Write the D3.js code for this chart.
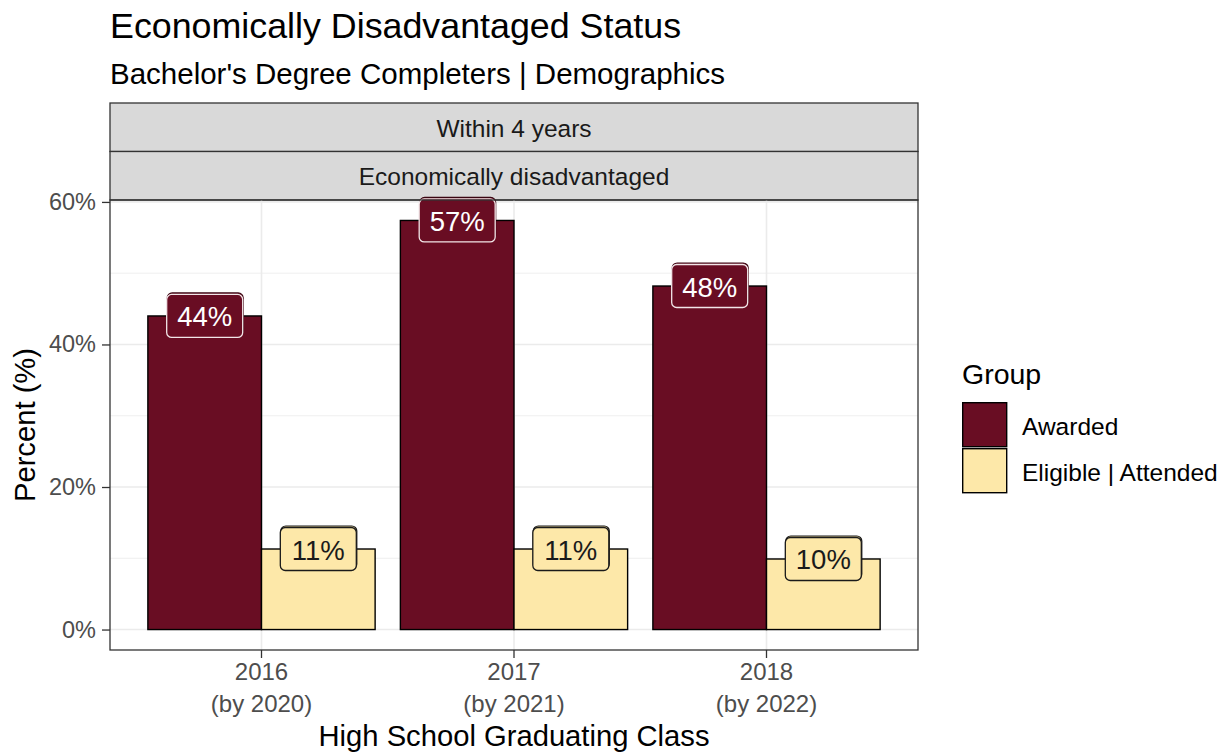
<!DOCTYPE html>
<html>
<head>
<meta charset="utf-8">
<script src="https://cdn.jsdelivr.net/npm/d3@7"></script>
<style>
  body { margin: 0; background: #fff; }
  svg text { font-family: "Liberation Sans", Arial, sans-serif; }
</style>
</head>
<body>
<div id="chart"></div>
<script>
// data
var classes = ["2016", "2017", "2018"]
var byYears = ["(by 2020)", "(by 2021)", "(by 2022)"]
var groups = ["Awarded", "Eligible | Attended"]
var awarded = [44.0, 57.4, 48.2]
var eligible = [11.3, 11.3, 9.9]
var yTicks = [0, 20, 40, 60]
var yMinor = [10, 30, 50]
var strips = ["Within 4 years", "Economically disadvantaged"]

var colors = {"Awarded": "#690d23", "Eligible | Attended": "#fde8a9"}
var textCol = {"Awarded": "#ffffff", "Eligible | Attended": "#1a1a1a"}
var lineCol = {"Awarded": "#f2e6e8", "Eligible | Attended": "#1a1a1a"}
var shadowCol = {"Awarded": "#3a0612", "Eligible | Attended": "#1a1a1a"}

var width = 1229, height = 753
var panel = {left: 110, right: 918, top: 200, bottom: 650}

var rows = []
classes.forEach(function(c, i) {
  rows.push({cls: c, group: groups[0], value: awarded[i]})
  rows.push({cls: c, group: groups[1], value: eligible[i]})
})

var svg = d3.select("#chart").append("svg")
  .attr("width", width)
  .attr("height", height)

var x = d3.scaleBand()
  .domain(classes)
  .range([panel.left, panel.right])
  .paddingInner(0.1)
  .paddingOuter(0.15)
var xg = d3.scaleBand()
  .domain(groups)
  .range([0, x.bandwidth()])
var y = d3.scaleLinear()
  .domain([-2.87, 60.27])
  .range([panel.bottom, panel.top])

// titles
svg.append("text").attr("x", 110).attr("y", 38)
  .attr("font-size", 35.8).attr("fill", "#000")
  .text("Economically Disadvantaged Status")
svg.append("text").attr("x", 110).attr("y", 84)
  .attr("font-size", 29.5).attr("fill", "#000")
  .text("Bachelor's Degree Completers | Demographics")

// strips
strips.forEach(function(s, i) {
  var top = 103 + i * 48.5
  svg.append("rect")
    .attr("x", panel.left).attr("y", top)
    .attr("width", panel.right - panel.left).attr("height", 48.5)
    .attr("fill", "#d9d9d9").attr("stroke", "#333333").attr("stroke-width", 1.3)
  svg.append("text")
    .attr("x", (panel.left + panel.right) / 2).attr("y", top + 25)
    .attr("text-anchor", "middle").attr("dominant-baseline", "central")
    .attr("font-size", 24.5).attr("fill", "#1a1a1a")
    .text(s)
})

// grid
var grid = svg.append("g")
grid.selectAll(".minor").data(yMinor).enter().append("line")
  .attr("x1", panel.left).attr("x2", panel.right)
  .attr("y1", function(d) { return y(d) }).attr("y2", function(d) { return y(d) })
  .attr("stroke", "#ebebeb").attr("stroke-width", 0.8)
grid.selectAll(".major").data(yTicks).enter().append("line")
  .attr("x1", panel.left).attr("x2", panel.right)
  .attr("y1", function(d) { return y(d) }).attr("y2", function(d) { return y(d) })
  .attr("stroke", "#ebebeb").attr("stroke-width", 1.6)
grid.selectAll(".vert").data(classes).enter().append("line")
  .attr("y1", panel.top).attr("y2", panel.bottom)
  .attr("x1", function(d) { return x(d) + x.bandwidth() / 2 })
  .attr("x2", function(d) { return x(d) + x.bandwidth() / 2 })
  .attr("stroke", "#ebebeb").attr("stroke-width", 1.6)

// bars
svg.append("g").selectAll("rect").data(rows).enter().append("rect")
  .attr("x", function(d) { return x(d.cls) + xg(d.group) })
  .attr("width", xg.bandwidth())
  .attr("y", function(d) { return y(d.value) })
  .attr("height", function(d) { return y(0) - y(d.value) })
  .attr("fill", function(d) { return colors[d.group] })
  .attr("stroke", "#000").attr("stroke-width", 1.4)

// value labels (geom_label look, drawn twice like the original)
var lab = svg.append("g").selectAll("g").data(rows).enter().append("g")
  .attr("transform", function(d) {
    return "translate(" + (x(d.cls) + xg(d.group) + xg.bandwidth() / 2) + "," + y(d.value) + ")"
  })
lab.append("rect")
  .attr("x", -37.5).attr("y", -23).attr("width", 76).attr("height", 43)
  .attr("rx", 5)
  .attr("fill", function(d) { return colors[d.group] })
  .attr("stroke", function(d) { return shadowCol[d.group] }).attr("stroke-width", 1.2)
lab.append("rect")
  .attr("x", -38).attr("y", -21.5).attr("width", 76).attr("height", 43)
  .attr("rx", 5)
  .attr("fill", function(d) { return colors[d.group] })
  .attr("stroke", function(d) { return lineCol[d.group] }).attr("stroke-width", 1.3)
lab.append("text")
  .attr("y", 1).attr("text-anchor", "middle").attr("dominant-baseline", "central")
  .attr("font-size", 27.5)
  .attr("fill", function(d) { return textCol[d.group] })
  .text(function(d) { return Math.round(d.value) + "%" })

// panel border
svg.append("rect")
  .attr("x", panel.left).attr("y", panel.top)
  .attr("width", panel.right - panel.left).attr("height", panel.bottom - panel.top)
  .attr("fill", "none").attr("stroke", "#333333").attr("stroke-width", 1.3)

// y axis
var yAxis = svg.append("g")
  .attr("transform", "translate(" + panel.left + ",0)")
  .call(d3.axisLeft(y).tickValues(yTicks).tickSize(8).tickPadding(6)
    .tickFormat(function(d) { return d + "%" }))
yAxis.select(".domain").remove()
yAxis.selectAll(".tick line").attr("stroke", "#333333").attr("stroke-width", 1.3)
yAxis.selectAll(".tick text").attr("font-size", 23.5).attr("fill", "#4d4d4d")
  .attr("font-family", "Liberation Sans, Arial, sans-serif")

// x axis, two-line labels
var xAxis = svg.append("g")
  .attr("transform", "translate(0," + panel.bottom + ")")
  .call(d3.axisBottom(x).tickSize(8).tickFormat(""))
xAxis.select(".domain").remove()
xAxis.selectAll(".tick line").attr("stroke", "#333333").attr("stroke-width", 1.3)
xAxis.selectAll(".tick").each(function(d, i) {
  var t = d3.select(this).append("text")
    .attr("text-anchor", "middle").attr("font-size", 24).attr("fill", "#4d4d4d")
  t.append("tspan").attr("x", 0).attr("y", 30).text(d)
  t.append("tspan").attr("x", 0).attr("y", 62).text(byYears[i])
})

// axis titles
svg.append("text")
  .attr("x", (panel.left + panel.right) / 2).attr("y", 746)
  .attr("text-anchor", "middle").attr("font-size", 29.2).attr("fill", "#000")
  .text("High School Graduating Class")
svg.append("text")
  .attr("transform", "translate(35," + ((panel.top + panel.bottom) / 2) + ") rotate(-90)")
  .attr("text-anchor", "middle").attr("font-size", 29.2).attr("fill", "#000")
  .text("Percent (%)")

// legend
var legend = svg.append("g").attr("transform", "translate(962,0)")
legend.append("text").attr("x", 0).attr("y", 384)
  .attr("font-size", 28.5).attr("fill", "#000").text("Group")
var items = legend.selectAll(".item").data(groups).enter().append("g")
  .attr("transform", function(d, i) { return "translate(0," + (402 + i * 46) + ")" })
items.append("rect")
  .attr("x", 0.7).attr("y", 0.7).attr("width", 44).attr("height", 44)
  .attr("fill", function(d) { return colors[d] })
  .attr("stroke", "#000").attr("stroke-width", 1.4)
items.append("text")
  .attr("x", 60).attr("y", 24).attr("dominant-baseline", "central")
  .attr("font-size", 24.5).attr("fill", "#000")
  .text(function(d) { return d })
</script>
</body>
</html>
